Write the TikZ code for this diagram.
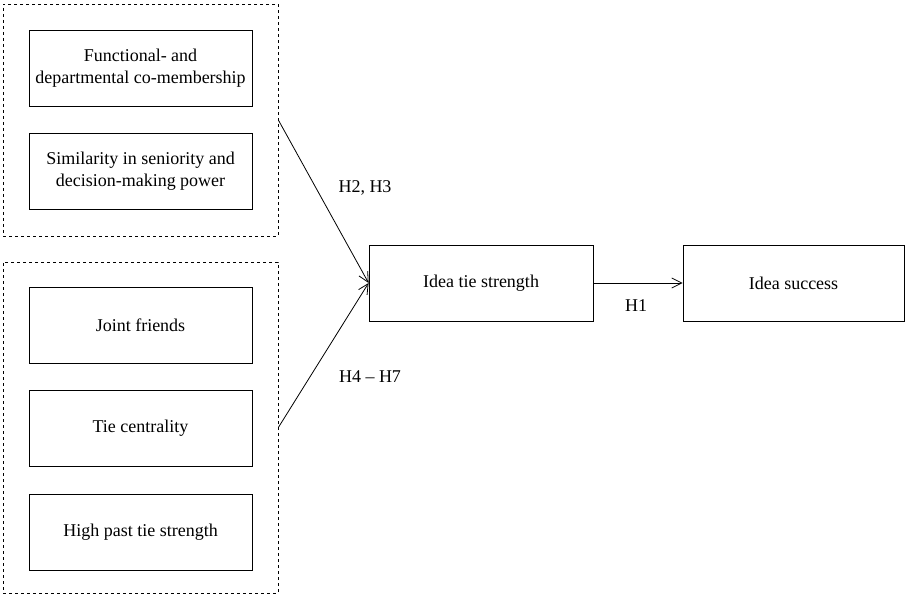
\documentclass[tikz,border=0pt]{standalone}
\usepackage{fontspec}
\setmainfont{Liberation Serif}
\usetikzlibrary{arrows.meta}

\begin{document}
\begin{tikzpicture}[x=1pt, y=-1pt,
    factor/.style={draw, line width=0.8pt, minimum width=223pt, minimum height=76pt,
        align=center, inner sep=0pt, font=\fontsize{18}{22}\selectfont},
    group/.style={draw, dashed, line width=0.7pt, inner sep=0pt},
    link/.style={line width=0.8pt, -{Straight Barb[length=10pt, width=10pt, line width=0.8pt]}},
    hyp/.style={font=\fontsize{18}{22}\selectfont}]
\useasboundingbox (0,0) rectangle (905,596);
% dashed groups
\node[group, minimum width=275pt, minimum height=232pt] (topgrp) at (140.5,120) {};
\node[group, minimum width=275pt, minimum height=331pt] (botgrp) at (140.5,427.5) {};
% antecedents
\node[factor] (member) at (140.5,68) {Functional- and\\departmental co-membership};
\node[factor] (similar) at (140.5,171) {Similarity in seniority and\\decision-making power};
\node[factor] (friends) at (140.5,325.5) {Joint friends};
\node[factor] (central) at (140.5,428.5) {Tie centrality};
\node[factor] (past) at (140.5,532) {High past tie strength};
% outcome side
\node[factor, minimum width=224pt] (tie) at (481,283) {Idea tie strength};
\node[factor, minimum width=221pt] (success) at (793.5,283) {Idea success};
% hypotheses
\draw[link] (topgrp.east) -- (tie.west);
\draw[link] (botgrp.east) -- (tie.west);
\draw[link] (tie.east) -- (success.west);
\node[hyp] (h23) at (365,188) {H2, H3};
\node[hyp] (h47) at (370,377) {H4 -- H7};
\node[hyp] (h1) at (636,306) {H1};
\end{tikzpicture}
\end{document}
